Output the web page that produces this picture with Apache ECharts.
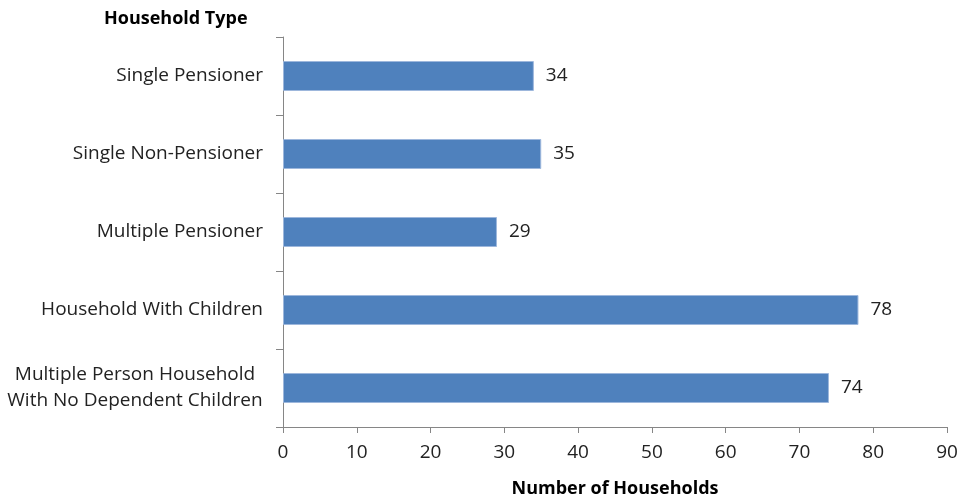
<!DOCTYPE html>
<html>
<head>
<meta charset="utf-8">
<script src="https://cdn.jsdelivr.net/npm/echarts@6/dist/echarts.min.js"></script>
<style>
  html, body { margin: 0; padding: 0; background: #fff; }
  #chart { width: 962px; height: 501px; }
</style>
</head>
<body>
<div id="chart"></div>
<script>
// Household counts by type
const categories = [
  'Single Pensioner',
  'Single Non-Pensioner',
  'Multiple Pensioner',
  'Household With Children',
  'Multiple Person Household\nWith No Dependent Children'
];
const households = [34, 35, 29, 78, 74];
const xTicks = { min: 0, max: 90, interval: 10 };

const FONT = '"Open Sans", Lato, sans-serif';
const AXIS_GREY = '#868686';
const TEXT = '#222';
const LABEL_SIZE = 19;

const chart = echarts.init(document.getElementById('chart'), null, { renderer: 'canvas' });

chart.setOption({
  animation: false,
  backgroundColor: '#fff',
  grid: { left: 283, right: 15, top: 37, bottom: 74, containLabel: false, outerBoundsMode: 'none' },
  title: {
    text: 'Household Type',
    left: 99, top: 5,
    textStyle: { fontFamily: FONT, fontSize: 18, fontWeight: 'bold', color: '#000' }
  },
  xAxis: {
    type: 'value',
    min: xTicks.min, max: xTicks.max, interval: xTicks.interval,
    name: 'Number of Households',
    nameLocation: 'middle',
    nameGap: 53,
    nameTextStyle: { fontFamily: FONT, fontSize: 18, fontWeight: 'bold', color: '#000' },
    axisLine: { show: true, lineStyle: { color: AXIS_GREY, width: 1 } },
    axisTick: { show: true, length: 6, lineStyle: { color: AXIS_GREY } },
    axisLabel: { margin: 16, fontFamily: FONT, fontSize: LABEL_SIZE, color: TEXT },
    splitLine: { show: false }
  },
  yAxis: {
    type: 'category',
    inverse: true,
    data: categories,
    axisLine: { show: true, lineStyle: { color: AXIS_GREY, width: 1 } },
    axisTick: { show: true, length: 7, alignWithLabel: false, lineStyle: { color: AXIS_GREY } },
    axisLabel: {
      margin: 20,
      fontFamily: FONT, fontSize: LABEL_SIZE, color: TEXT,
      // two-line labels are centred line by line inside a fixed box
      formatter: v => v.indexOf('\n') >= 0 ? '{c|' + v + '}' : v,
      rich: {
        c: { fontFamily: FONT, fontSize: LABEL_SIZE, color: TEXT, lineHeight: 26, width: 256, align: 'center' }
      }
    }
  },
  series: [{
    type: 'bar',
    data: households,
    barWidth: 30,
    itemStyle: { color: '#4F81BD', borderColor: '#9DB7DC', borderWidth: 1 },
    label: {
      show: true,
      position: 'right',
      distance: 12,
      fontFamily: FONT, fontSize: LABEL_SIZE, color: TEXT
    }
  }]
});
</script>
</body>
</html>
